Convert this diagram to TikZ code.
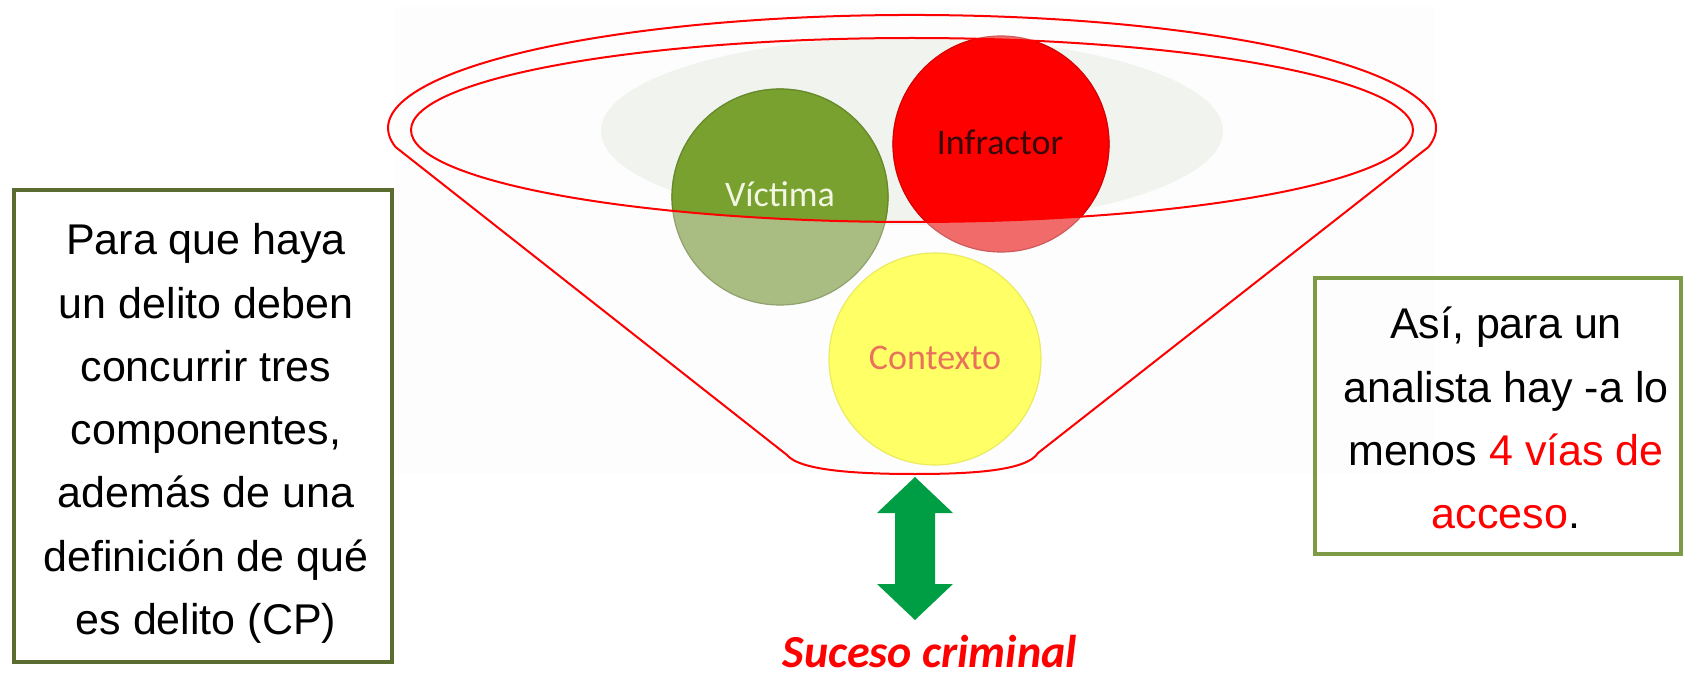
\documentclass[tikz,border=0pt]{standalone}
\usepackage{fontspec}
\setmainfont{Liberation Sans}
\newfontfamily\calib{Carlito}
\definecolor{vdark}{HTML}{78A12F}
\definecolor{vlight}{HTML}{A9BD82}
\definecolor{idark}{HTML}{FF0000}
\definecolor{ilight}{HTML}{F26B6B}
\definecolor{clight}{HTML}{FFFF66}
\definecolor{bgell}{HTML}{F1F4EE}
\definecolor{lgreen}{HTML}{5B6C30}
\definecolor{rgreen}{HTML}{7D9A44}
\definecolor{arrowM}{HTML}{00BC58}
\definecolor{arrowS}{HTML}{009E44}
\definecolor{ctxt}{HTML}{E8735A}
\definecolor{itxt}{HTML}{3A0808}
\definecolor{vtxt}{HTML}{F2F6E2}
\tikzset{
  funnel/.style={draw=red, line width=1pt},
  textbox/.style={draw, line width=2pt, rectangle, inner sep=0pt},
  boxtext/.style={align=center, inner sep=0pt, font=\fontsize{21.5pt}{31.65pt}\selectfont},
  ballabel/.style={inner sep=0pt, font=\calib\fontsize{18pt}{20pt}\selectfont},
}
\begin{document}
\begin{tikzpicture}[x=0.5pt,y=-0.5pt]
\useasboundingbox (0,0) rectangle (1683,674);
\fill[white] (0,0) rectangle (1683,674);
% faint picture background
\fill[black!0.7] (395,7) rectangle (1435,474);
% grey background ellipse
\fill[bgell] (912,131) ellipse[x radius=311, y radius=94];
% light (outside) parts of the balls
\fill[vlight, draw=vlight!85!black, line width=0.6pt] (780,197) circle[radius=108];
\fill[ilight, draw=ilight!85!black, line width=0.6pt] (1001,144) circle[radius=108];
\fill[clight, draw=clight!92!black, line width=0.6pt] (935,359) circle[radius=106];
% saturated parts inside the mouth
\begin{scope}
  \clip (912,130) ellipse[x radius=501, y radius=92];
  \fill[vdark, draw=vdark!85!black, line width=0.6pt] (780,197) circle[radius=108];
  \fill[idark, draw=idark!85!black, line width=0.6pt] (1001,144) circle[radius=108];
\end{scope}
% labels
\node[ballabel, text=vtxt] (victima) at (780,194) {Víctima};
\node[ballabel, text=itxt] (infractor) at (1000,142) {Infractor};
\node[ballabel, text=ctxt] (contexto) at (935,358) {Contexto};
% funnel outline
\draw[funnel] (912,130) ellipse[x radius=501, y radius=92];
\draw[funnel] (1428.5,147) arc[start angle=9.7, end angle=-189.7, x radius=524, y radius=113]
  -- (787,455) .. controls (800,471) and (860,474) .. (915,474)
  .. controls (970,474) and (1027,471) .. (1038,453) -- cycle;
% double arrow
\shade[left color=arrowS, middle color=arrowM, right color=arrowS]
  (915,477) -- (953,513) -- (935,513) -- (935,584) -- (953,584) -- (915,620)
  -- (877,584) -- (895,584) -- (895,513) -- (877,513) -- cycle;
% caption
\node[anchor=base, inner sep=0pt, text=red, font=\calib\bfseries\itshape\fontsize{23pt}{27pt}\selectfont] (suceso) at (930,667) {Suceso criminal};
% left box
\node[textbox, draw=lgreen, minimum width=189pt, minimum height=236pt] (leftbox) at (203,426) {};
\node[boxtext] (lefttext) at (206,432) {\strut Para que haya\\\strut un delito deben\\\strut concurrir tres\\\strut componentes,\\\strut además de una\\\strut definición de qué\\\strut es delito (CP)};
% right box
\node[textbox, draw=rgreen, minimum width=183pt, minimum height=138pt] (rightbox) at (1497.5,416) {};
\node[boxtext] (righttext) at (1506,421) {\strut Así, para un\\\strut analista hay -a lo\\\strut menos \textcolor{red}{4 vías de}\\\strut \textcolor{red}{acceso}.};
\end{tikzpicture}
\end{document}
